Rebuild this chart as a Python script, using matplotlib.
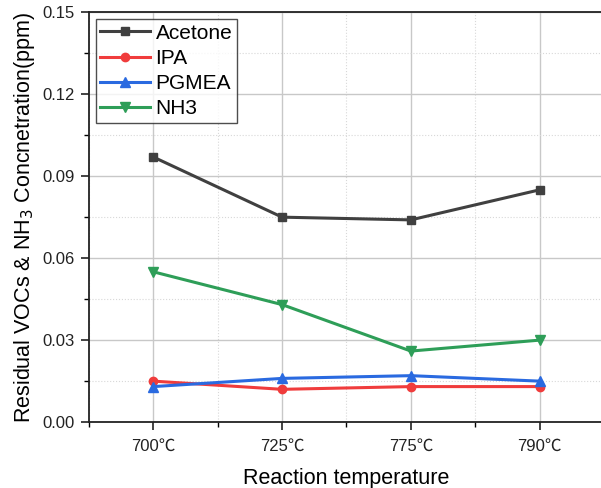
import matplotlib
matplotlib.use("Agg")
import matplotlib.pyplot as plt
from matplotlib.ticker import MultipleLocator

plt.rcParams['font.family'] = ['Liberation Sans', 'Noto Sans CJK SC', 'DejaVu Sans']

categories = ['700℃', '725℃', '775℃', '790℃']
acetone = [0.097, 0.075, 0.074, 0.085]
ipa = [0.015, 0.012, 0.013, 0.013]
pgmea = [0.013, 0.016, 0.017, 0.015]
nh3 = [0.055, 0.043, 0.026, 0.030]

fig = plt.figure(figsize=(6.01, 4.88), dpi=100)
ax = fig.add_axes([0.148, 0.135, 0.857, 0.84])
x = list(range(len(categories)))

ax.plot(x, acetone, color='#404040', marker='s', ms=6, lw=2.2, label='Acetone')
ax.plot(x, ipa, color='#f03c3c', marker='o', ms=6, lw=2.2, label='IPA')
ax.plot(x, pgmea, color='#2a6ae0', marker='^', ms=7, lw=2.2, label='PGMEA')
ax.plot(x, nh3, color='#2e9e58', marker='v', ms=7, lw=2.2, label='NH3')

ax.set_xlim(-0.5, 3.5)
ax.set_ylim(0, 0.15)
ax.set_xticks(x)
ax.set_xticklabels(categories)
ax.xaxis.set_minor_locator(MultipleLocator(0.5))
ax.yaxis.set_major_locator(MultipleLocator(0.03))
ax.yaxis.set_minor_locator(MultipleLocator(0.015))
ax.yaxis.set_major_formatter(plt.FuncFormatter(lambda v, p: f'{v:.2f}'))

ax.grid(which='major', color='#c8c8c8', lw=1, ls='-')
ax.grid(which='minor', color='#d8d8d8', lw=0.8, ls=':')
ax.set_axisbelow(True)

ax.tick_params(which='major', direction='out', length=6, width=1.2, labelsize=12, colors='#222222', pad=4)
ax.tick_params(which='minor', direction='out', length=3.5, width=1)
ax.tick_params(axis='x', pad=6)
for s in ['left', 'bottom', 'top']:
    ax.spines[s].set_linewidth(1.3)
    ax.spines[s].set_color('#222222')
ax.spines['right'].set_visible(False)

ax.set_xlabel('Reaction temperature', fontsize=15.5, labelpad=10)
ax.set_ylabel('Residual VOCs & NH$_3$ Concnetration(ppm)', fontsize=15.5, labelpad=4)

leg = ax.legend(loc='upper left', fontsize=15, frameon=True, fancybox=False,
                edgecolor='#222222', handlelength=2.4, borderaxespad=0.35,
                labelspacing=0.3, handletextpad=0.25, borderpad=0.2)
leg.get_frame().set_linewidth(1.0)

fig.savefig('out.png', dpi=100)
